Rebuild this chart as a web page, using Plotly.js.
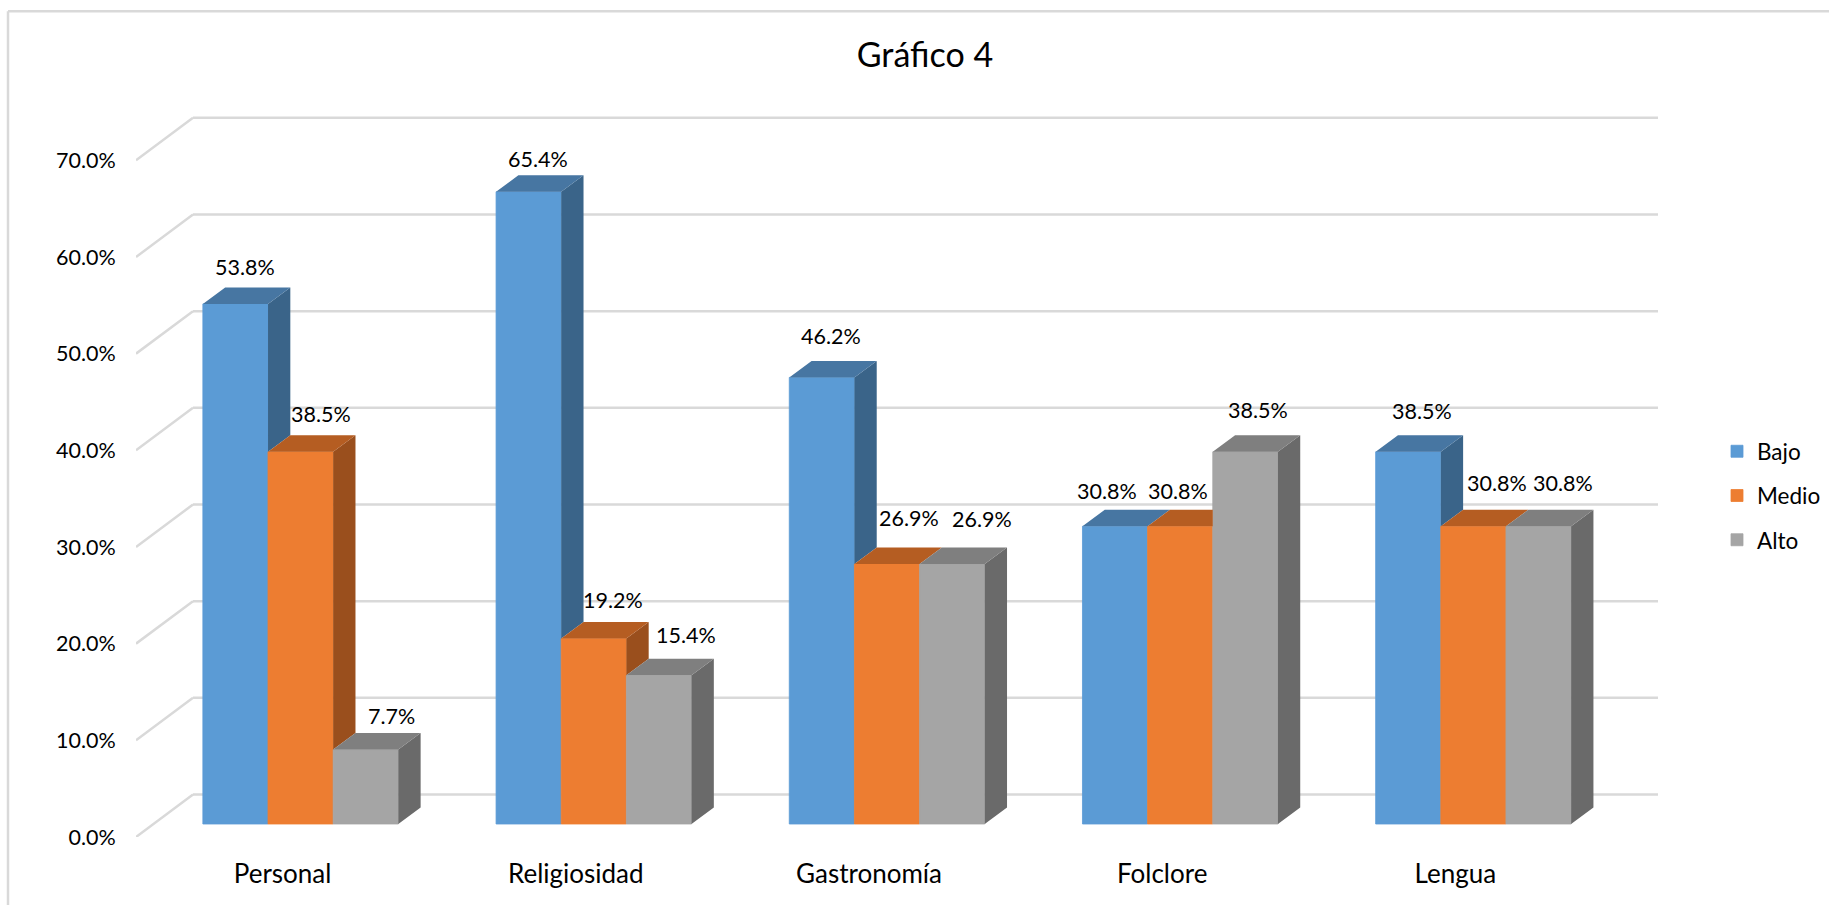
<!DOCTYPE html>
<html>
<head>
<meta charset="utf-8">
<script src="https://cdn.plot.ly/plotly-3.0.1.min.js"></script>
<style>html,body{margin:0;padding:0;background:#fff;overflow:hidden}#c{width:1829px;height:905px}</style>
</head>
<body>
<div id="c"></div>
<script>
const categories = ['Personal','Religiosidad','Gastronomía','Folclore','Lengua'];
const seriesNames = ['Bajo','Medio','Alto'];
const bajo  = [53.8,65.4,46.2,30.8,38.5];
const medio = [38.5,19.2,26.9,30.8,30.8];
const alto  = [7.7,15.4,26.9,38.5,30.8];
const yTicks = [0,10,20,30,40,50,60,70];

const values = [bajo,medio,alto];
const frontColors = ['#5B9BD5','#ED7D31','#A5A5A5'];
const topColors   = ['#4776A2','#B55D22','#7F7F7F'];
const sideColors  = ['#3A6489','#9A4F1D','#6A6A6A'];

// Pixel scale of the axes, used to express the pseudo-3D depth in data units
const W = 1522, CAT = 293.2, PX = 9.67, Y0 = 837, YMAX = 75;
const xMin = -0.5, xMax = xMin + W/CAT;
const wallDX = 57/CAT, wallDY = 42.5/PX;    // floor depth
const barDX = 22.3/CAT, barDY = 16.5/PX;    // bar depth
const lift = 13/PX, shiftX = 18/CAT;        // bars stand inside the floor
const barW = 1/4.5;

// label nudges in pixels [right, up], per category then per series
const nudges = [
 [[9.8,36.8],[20.5,37.7],[25.5,33.5]],
 [[9.5,32.6],[19.5,38.7],[27.3,40.5]],
 [[8.8,41.2],[22.3,46.2],[30,44.6]],
 [[-7.8,35.5],[-2.4,35.5],[12.9,41.4]],
 [[14,40.7],[24,43.5],[24.2,43.5]]
];

const xIdx = categories.map((_,i)=>i);
const center = (i,k) => i + shiftX + (k-1)*barW;

const traces = [];
// front faces: real bars
values.forEach((vals,k)=>{
  traces.push({type:'bar',name:seriesNames[k],x:xIdx.map(i=>center(i,k)),y:vals,
    base:vals.map(()=>lift),width:barW,marker:{color:frontColors[k],line:{width:0.8,color:frontColors[k]}},
    legendgroup:seriesNames[k],hoverinfo:'skip',cliponaxis:false});
});
// top and side faces
values.forEach((vals,k)=>{
  const next = values[k+1];
  const tx=[],ty=[],sx=[],sy=[];
  vals.forEach((v,i)=>{
    const xl=center(i,k)-barW/2, xr=xl+barW, t=v+lift;
    const nv = next ? next[i] : 0, nt = nv+lift;
    if(next && nv>v){
      tx.push(xl,xr,xr,xl+barDX,xl,null); ty.push(t,t,t+barDY,t+barDY,t,null);
    } else {
      tx.push(xl,xr,xr+barDX,xl+barDX,xl,null); ty.push(t,t,t+barDY,t+barDY,t,null);
    }
    if(nv<v){
      sx.push(xr,xr,xr+barDX,xr+barDX,xr,null); sy.push(nt,t,t+barDY,nt+barDY,nt,null);
    }
  });
  traces.push({type:'scatter',mode:'lines',x:sx,y:sy,fill:'toself',fillcolor:sideColors[k],
    line:{width:0,color:sideColors[k]},showlegend:false,hoverinfo:'skip',connectgaps:false});
  traces.push({type:'scatter',mode:'lines',x:tx,y:ty,fill:'toself',fillcolor:topColors[k],
    line:{width:0,color:topColors[k]},showlegend:false,hoverinfo:'skip',connectgaps:false});
});

const gridLine = {color:'#D9D9D9',width:2.5};
const shapes = [];
yTicks.forEach(v=>{
  shapes.push({type:'line',layer:'below',xref:'x',yref:'y',x0:xMin,y0:v,x1:xMin+wallDX,y1:v+wallDY,line:gridLine});
  shapes.push({type:'line',layer:'below',xref:'x',yref:'y',x0:xMin+wallDX,y0:v+wallDY,x1:xMax,y1:v+wallDY,line:gridLine});
});
// outer chart frame (top and left edges are visible)
const px = x => (x-136)/W, py = y => 1-(y-(Y0-YMAX*PX))/(YMAX*PX);
shapes.push({type:'line',layer:'below',xref:'paper',yref:'paper',x0:px(8),y0:py(11),x1:px(1829),y1:py(11),line:gridLine});
shapes.push({type:'line',layer:'below',xref:'paper',yref:'paper',x0:px(8),y0:py(11),x1:px(8),y1:py(905),line:gridLine});

const annotations = [];
values.forEach((vals,k)=>vals.forEach((v,i)=>{
  annotations.push({x:center(i,k),y:v+lift,text:v.toFixed(1)+'%',showarrow:false,
    xanchor:'center',yanchor:'middle',xshift:nudges[i][k][0],yshift:nudges[i][k][1],
    font:{family:'Lato',size:21.5,color:'#000'}});
}));

const layout = {
  width:1829,height:905,autosize:false,
  paper_bgcolor:'#fff',plot_bgcolor:'rgba(0,0,0,0)',
  margin:{l:136,r:1829-136-W,t:Y0-YMAX*PX,b:905-Y0,pad:0,autoexpand:false},
  font:{family:'Lato',color:'#000'},
  title:{text:'Gráfico 4',x:925/1829,xanchor:'center',y:1-55/905,yanchor:'middle',font:{family:'Lato',size:34,color:'#000'}},
  barmode:'overlay',hovermode:false,
  xaxis:{type:'linear',range:[xMin,xMax],tickmode:'array',tickvals:xIdx,ticktext:categories,
    showgrid:false,zeroline:false,showline:false,ticks:'outside',ticklen:14,tickcolor:'rgba(0,0,0,0)',
    tickfont:{family:'Lato',size:26,color:'#000'},fixedrange:true,automargin:false},
  yaxis:{type:'linear',range:[0,YMAX],tickmode:'array',tickvals:yTicks,ticktext:yTicks.map(v=>v.toFixed(1)+'%'),
    showgrid:false,zeroline:false,showline:false,ticks:'outside',ticklen:15,tickcolor:'rgba(0,0,0,0)',
    tickfont:{family:'Lato',size:21.5,color:'#000'},fixedrange:true,automargin:false},
  legend:{x:px(1717),xanchor:'left',y:py(430),yanchor:'top',traceorder:'grouped',tracegroupgap:12,
    font:{family:'Lato',size:22.5,color:'#000'},bgcolor:'rgba(0,0,0,0)'},
  shapes:shapes,annotations:annotations
};
Plotly.newPlot('c',traces,layout,{displayModeBar:false,staticPlot:true});
</script>
</body>
</html>
